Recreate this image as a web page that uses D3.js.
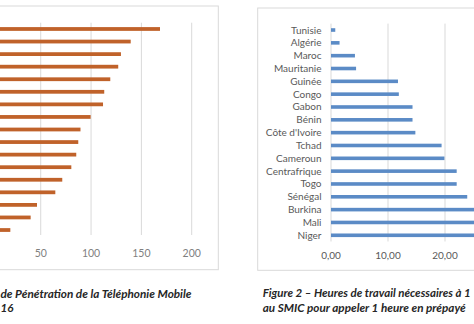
<!DOCTYPE html>
<html><head><meta charset="utf-8">
<script src="https://cdn.jsdelivr.net/npm/d3@7/dist/d3.min.js"></script>
<style>
html,body{margin:0;padding:0;background:#fff;}
svg{display:block;}
</style></head>
<body>
<svg id="c" width="474" height="324"></svg>
<script>
// Figure 1 – mobile penetration (left chart; its category labels lie outside the visible window)
const pays1 = ["Gabon","Mali","Côte d'Ivoire","Tunisie","Maroc","Algérie","Sénégal","Congo","Bénin","Mauritanie","Guinée","Burkina","Togo","Cameroun","Tchad","Niger","Centrafrique"];
const taux1 = [168.5,139.4,129.7,127,119.1,113.1,111.9,99.6,89.5,87.3,85.3,80.4,71.4,64.5,46.3,40,19.8];
const ticks1 = [0,50,100,150,200];

// Figure 2 – hours of work needed to call 1 hour prepaid
const pays2 = ["Tunisie","Algérie","Maroc","Mauritanie","Guinée","Congo","Gabon","Bénin","Côte d'Ivoire","Tchad","Cameroun","Centrafrique","Togo","Sénégal","Burkina","Mali","Niger"];
const heures2 = [0.75,1.5,4.2,4.4,11.75,11.9,14.3,14.3,14.8,19.4,19.9,22.05,22.05,23.9,26.5,27.5,29];
const ticks2 = [0,10,20,30];

// visible parts of the captions
const caption1 = ["de Pénétration de la Téléphonie Mobile","16"];
const caption2 = ["Figure 2 – Heures de travail nécessaires à 1","au SMIC pour appeler 1 heure en prépayé"];

const svg = d3.select("#c");
const W = 474;
const grid = "#d9d9d9";
const labelFont = "Lato, 'Open Sans', sans-serif";

// ---------- Left chart ----------
const g1 = svg.append("g");
g1.append("rect").attr("x",-300).attr("y",6).attr("width",518.3).attr("height",263.7)
  .attr("fill","#fff").attr("stroke",grid).attr("stroke-width",1);
const x1 = d3.scaleLinear().domain([0,200]).range([-9.6,191.7]);
const y1 = d3.scaleBand().domain(pays1).range([22.7,236.3]).paddingInner(0.7).paddingOuter(0.35);
g1.selectAll("line.g").data(ticks1).join("line").attr("class","g")
  .attr("x1",d=>x1(d)).attr("x2",d=>x1(d)).attr("y1",22.7).attr("y2",235)
  .attr("stroke",grid).attr("stroke-width",1);
g1.selectAll("rect.b").data(taux1).join("rect").attr("class","b")
  .attr("x",x1(0)).attr("y",(d,i)=>y1(pays1[i]))
  .attr("width",d=>x1(d)-x1(0)).attr("height",y1.bandwidth())
  .attr("fill","#c0622a");
g1.selectAll("text.t").data(ticks1.filter(d=>x1(d)>10)).join("text").attr("class","t")
  .attr("x",d=>x1(d)).attr("y",257).attr("text-anchor","middle")
  .attr("font-family",labelFont).attr("font-size",10.5).attr("fill","#7f7f7f")
  .text(d=>d);
const cap1 = svg.append("g").attr("font-family",labelFont).attr("font-weight","bold")
  .attr("font-style","italic").attr("font-size",11.6).attr("fill","#262626");
cap1.append("text").attr("x",0.5).attr("y",297.5)
  .attr("textLength",191).attr("lengthAdjust","spacingAndGlyphs").text(caption1[0]);
cap1.append("text").attr("x",0.5).attr("y",311.5).text(caption1[1]);

// ---------- Right chart ----------
const g2 = svg.append("g");
g2.append("rect").attr("x",257.7).attr("y",8).attr("width",400).attr("height",262.3)
  .attr("fill","#fff").attr("stroke",grid).attr("stroke-width",1);
const x2 = d3.scaleLinear().domain([0,30]).range([331,502]);
const y2 = d3.scaleBand().domain(pays2).range([23.6,241.7]).paddingInner(0.72).paddingOuter(0.36);
g2.selectAll("line.g").data(ticks2).join("line").attr("class","g")
  .attr("x1",d=>x2(d)).attr("x2",d=>x2(d)).attr("y1",23.6).attr("y2",241.5)
  .attr("stroke",grid).attr("stroke-width",1);
g2.selectAll("rect.b").data(heures2).join("rect").attr("class","b")
  .attr("x",x2(0)).attr("y",(d,i)=>y2(pays2[i]))
  .attr("width",d=>x2(d)-x2(0)).attr("height",y2.bandwidth())
  .attr("fill","#5b8bc6");
g2.selectAll("text.c").data(pays2).join("text").attr("class","c")
  .attr("x",321.5).attr("y",d=>y2(d)+y2.bandwidth()/2+3.5).attr("text-anchor","end")
  .attr("font-family",labelFont).attr("font-size",10).attr("fill","#595959").text(d=>d);
g2.selectAll("text.t").data(ticks2.filter(d=>x2(d)<W-20)).join("text").attr("class","t")
  .attr("x",d=>x2(d)).attr("y",258.5).attr("text-anchor","middle")
  .attr("font-family",labelFont).attr("font-size",10).attr("fill","#595959")
  .text(d=>d.toFixed(2).replace(".",","));
const cap2 = svg.append("g").attr("font-family",labelFont).attr("font-weight","bold")
  .attr("font-style","italic").attr("font-size",11.6).attr("fill","#262626");
cap2.append("text").attr("x",262.7).attr("y",297)
  .attr("textLength",208).attr("lengthAdjust","spacingAndGlyphs").text(caption2[0]);
cap2.append("text").attr("x",262.7).attr("y",311.5)
  .attr("textLength",203).attr("lengthAdjust","spacingAndGlyphs").text(caption2[1]);
</script>
</body></html>
